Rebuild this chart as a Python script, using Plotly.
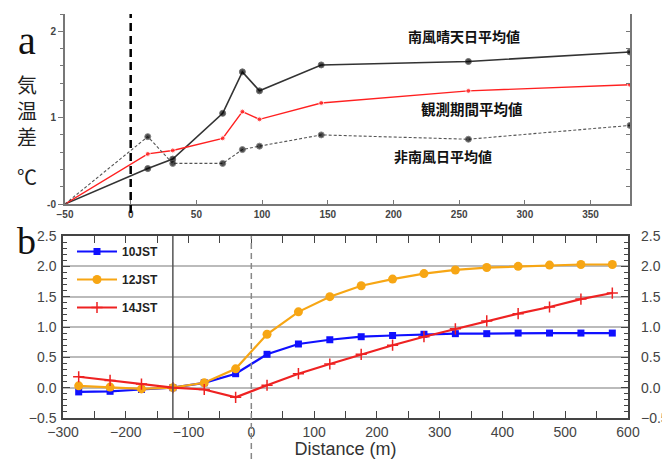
import plotly.graph_objects as go

# ---------- Panel a data ----------
a_x = [-50, 13, 32, 70, 85, 98, 145, 257, 380]
a_south_clear = [0, 0.41, 0.52, 1.05, 1.53, 1.31, 1.61, 1.65, 1.76]
a_period_mean = [0, 0.58, 0.62, 0.76, 1.07, 0.98, 1.17, 1.31, 1.38]
a_non_south = [0, 0.78, 0.47, 0.47, 0.63, 0.67, 0.80, 0.75, 0.91]
a_xticks = [-50, 0, 50, 100, 150, 200, 250, 300, 350]
a_yticks = [0, 1, 2]
a_yticktext = ["-0", "1", "2"]

# ---------- Panel b data ----------
b_x = [-275, -225, -175, -125, -75, -25, 25, 75, 125, 175, 225, 275, 325, 375, 425, 475, 525, 575]
b_10jst = [-0.07, -0.06, -0.03, 0, 0.08, 0.23, 0.55, 0.72, 0.79, 0.84, 0.86, 0.88, 0.89, 0.89, 0.90, 0.90, 0.90, 0.90]
b_12jst = [0.03, 0.01, -0.02, 0, 0.08, 0.31, 0.88, 1.25, 1.50, 1.68, 1.79, 1.88, 1.94, 1.98, 2.00, 2.02, 2.03, 2.03]
b_14jst = [0.18, 0.12, 0.06, 0, -0.03, -0.16, 0.04, 0.23, 0.39, 0.55, 0.70, 0.84, 0.97, 1.10, 1.22, 1.33, 1.46, 1.56]
b_xticks = [-300, -200, -100, 0, 100, 200, 300, 400, 500, 600]
b_yticks = [-0.5, 0.0, 0.5, 1.0, 1.5, 2.0, 2.5]

W, H = 662, 459
def px(x):
    return x / W
def py(y):
    return 1 - y / H

fig = go.Figure()

# Panel a traces
fig.add_trace(go.Scatter(x=a_x, y=a_south_clear, mode="lines+markers",
                         line=dict(color="#333333", width=1.6),
                         marker=dict(color="black", size=[0] + [6] * (len(a_x) - 1)),
                         xaxis="x", yaxis="y", showlegend=False))
fig.add_trace(go.Scatter(x=a_x, y=a_period_mean, mode="lines+markers",
                         line=dict(color="#ff2020", width=1.4),
                         marker=dict(color="#ff2020", size=[0] + [5] * (len(a_x) - 1)),
                         xaxis="x", yaxis="y", showlegend=False))
fig.add_trace(go.Scatter(x=a_x, y=a_non_south, mode="lines+markers",
                         line=dict(color="#555555", width=1.1, dash="3px,2px"),
                         marker=dict(color="black", size=[0] + [6] * (len(a_x) - 1)),
                         xaxis="x", yaxis="y", showlegend=False))

# Panel b traces
fig.add_trace(go.Scatter(x=b_x, y=b_10jst, mode="lines+markers", name="10JST",
                         line=dict(color="#1010ff", width=2.2),
                         marker=dict(color="#1010ff", symbol="square", size=7),
                         xaxis="x2", yaxis="y2", legendgroup="g1"))
fig.add_trace(go.Scatter(x=b_x, y=b_12jst, mode="lines+markers", name="12JST",
                         line=dict(color="#f7a614", width=2.2),
                         marker=dict(color="#f7a614", symbol="circle", size=9),
                         xaxis="x2", yaxis="y2", legendgroup="g2"))
fig.add_trace(go.Scatter(x=b_x, y=b_14jst, mode="lines+markers", name="14JST",
                         line=dict(color="#ee2222", width=2.2),
                         marker=dict(color="#ee2222", symbol="cross-thin", size=8,
                                     line=dict(color="#ee2222", width=1.5)),
                         xaxis="x2", yaxis="y2", legendgroup="g3"))

axis_gray = "#777777"
tick_font_a = dict(family="Liberation Sans, Arial", size=10, color="#444444", weight="bold")
tick_font_b = dict(family="Liberation Sans, Arial", size=14, color="#444444")

fig.update_layout(
    width=W, height=H,
    margin=dict(l=0, r=0, t=0, b=0),
    paper_bgcolor="white", plot_bgcolor="white",
    showlegend=True,
    legend=dict(x=px(72), y=py(237), xanchor="left", yanchor="top",
                bgcolor="rgba(0,0,0,0)", tracegroupgap=9,
                font=dict(family="Liberation Sans, Arial", size=12, color="#222222", weight="bold"),
                itemwidth=40),
    # Panel a
    xaxis=dict(domain=[px(65), px(630)], range=[-50, 380], anchor="y", automargin=False,
               tickvals=a_xticks, ticks="inside", ticklen=4, tickcolor=axis_gray,
               showline=True, linecolor=axis_gray, linewidth=2, showgrid=False, zeroline=False,
               tickfont=tick_font_a, ticklabelstandoff=0),
    yaxis=dict(domain=[py(204), py(14)], range=[0, 2.2], anchor="x", automargin=False,
               tickvals=a_yticks, ticktext=a_yticktext, ticks="outside", ticklen=5,
               tickcolor=axis_gray,
               minor=dict(dtick=0.2, tick0=0, ticks="outside", ticklen=3, tickcolor=axis_gray),
               showline=True, linecolor=axis_gray, linewidth=2, showgrid=False, zeroline=False,
               tickfont=tick_font_a),
    yaxis3=dict(overlaying="y", side="right", anchor="x", range=[0, 2.2], automargin=False,
                tickvals=[0.2, 0.4, 0.6, 0.8, 1.0, 1.2, 1.4, 1.6, 1.8, 2.0, 2.2],
                ticks="inside", ticklen=4, tickcolor=axis_gray, showticklabels=False,
                showline=True, linecolor=axis_gray, linewidth=2, showgrid=False, zeroline=False),
    # Panel b
    xaxis2=dict(domain=[px(63), px(628)], range=[-300, 600], anchor="y2", automargin=False,
                tickvals=b_xticks, ticks="inside", ticklen=7, tickcolor="#444444",
                minor=dict(dtick=50, tick0=0, ticks="inside", ticklen=5, tickcolor="#444444"),
                mirror="allticks",
                showline=True, linecolor="#444444", linewidth=1.5, showgrid=False, zeroline=False,
                tickfont=tick_font_b,
                title=dict(text="Distance (m)", font=dict(family="Liberation Sans, Arial", size=18, color="#333333"),
                           standoff=2)),
    yaxis2=dict(domain=[py(418), py(236)], range=[-0.5, 2.5], anchor="x2", automargin=False,
                tickvals=b_yticks, tickformat=".1f", ticks="inside", ticklen=7, tickcolor="#444444",
                minor=dict(dtick=0.1, tick0=0, ticks="inside", ticklen=4, tickcolor="#444444"),
                mirror="allticks",
                showline=True, linecolor="#444444", linewidth=1.5,
                showgrid=True, gridcolor="#bbbbbb", gridwidth=1.5, zeroline=False,
                tickfont=tick_font_b, ticklabelstandoff=2),
    yaxis4=dict(overlaying="y2", side="right", anchor="x2", range=[-0.5, 2.5], automargin=False,
                tickvals=b_yticks, tickformat=".1f", ticks="", showline=False,
                showgrid=False, zeroline=False, tickfont=tick_font_b, ticklabelstandoff=12),
)

# dummy traces to make yaxis3 and yaxis4 render
fig.add_trace(go.Scatter(x=[None], y=[None], xaxis="x", yaxis="y3", showlegend=False, hoverinfo="skip"))
fig.add_trace(go.Scatter(x=[None], y=[None], xaxis="x2", yaxis="y4", showlegend=False, hoverinfo="skip"))

# vertical reference lines
fig.add_shape(type="line", xref="x", yref="paper", x0=0, x1=0, y0=py(213), y1=py(14),
              line=dict(color="black", width=2.5, dash="8px,5px"))
fig.add_shape(type="line", xref="x2", yref="paper", x0=-125, x1=-125, y0=py(418), y1=py(236),
              line=dict(color="#555555", width=1.5))
fig.add_shape(type="line", xref="x2", yref="paper", x0=0, x1=0, y0=py(459), y1=py(236),
              line=dict(color="#888888", width=1.5, dash="6px,4px"))

jp = "Noto Sans CJK JP"
ann = [
    dict(text="南風晴天日平均値", x=464, y=36, size=14),
    dict(text="観測期間平均値", x=472, y=108, size=14.5),
    dict(text="非南風日平均値", x=443, y=156, size=14),
]
for a in ann:
    fig.add_annotation(text=a["text"], xref="paper", yref="paper", x=px(a["x"]), y=py(a["y"]),
                       showarrow=False, xanchor="center", yanchor="middle",
                       font=dict(family=jp, size=a["size"], color="#111111", weight="bold"))

for ch, yy in [("気", 84), ("温", 110), ("差", 136)]:
    fig.add_annotation(text=ch, xref="paper", yref="paper", x=px(27), y=py(yy),
                       showarrow=False, xanchor="center", yanchor="middle", borderpad=0,
                       font=dict(family=jp, size=20, color="#222222"))
fig.add_annotation(text="℃", xref="paper", yref="paper", x=px(27), y=py(176),
                   showarrow=False, xanchor="center", yanchor="middle",
                   font=dict(family=jp, size=20, color="#222222"))
fig.add_annotation(text="a", xref="paper", yref="paper", x=px(27), y=py(41),
                   showarrow=False, xanchor="center", yanchor="middle",
                   font=dict(family="Liberation Serif, DejaVu Serif", size=40, color="#111111"))
fig.add_annotation(text="b", xref="paper", yref="paper", x=px(26), y=py(241),
                   showarrow=False, xanchor="center", yanchor="middle",
                   font=dict(family="Liberation Serif, DejaVu Serif", size=38, color="#111111"))

fig.write_html("out.html", config={"displayModeBar": False},
               post_script="document.body.style.margin='0';")
